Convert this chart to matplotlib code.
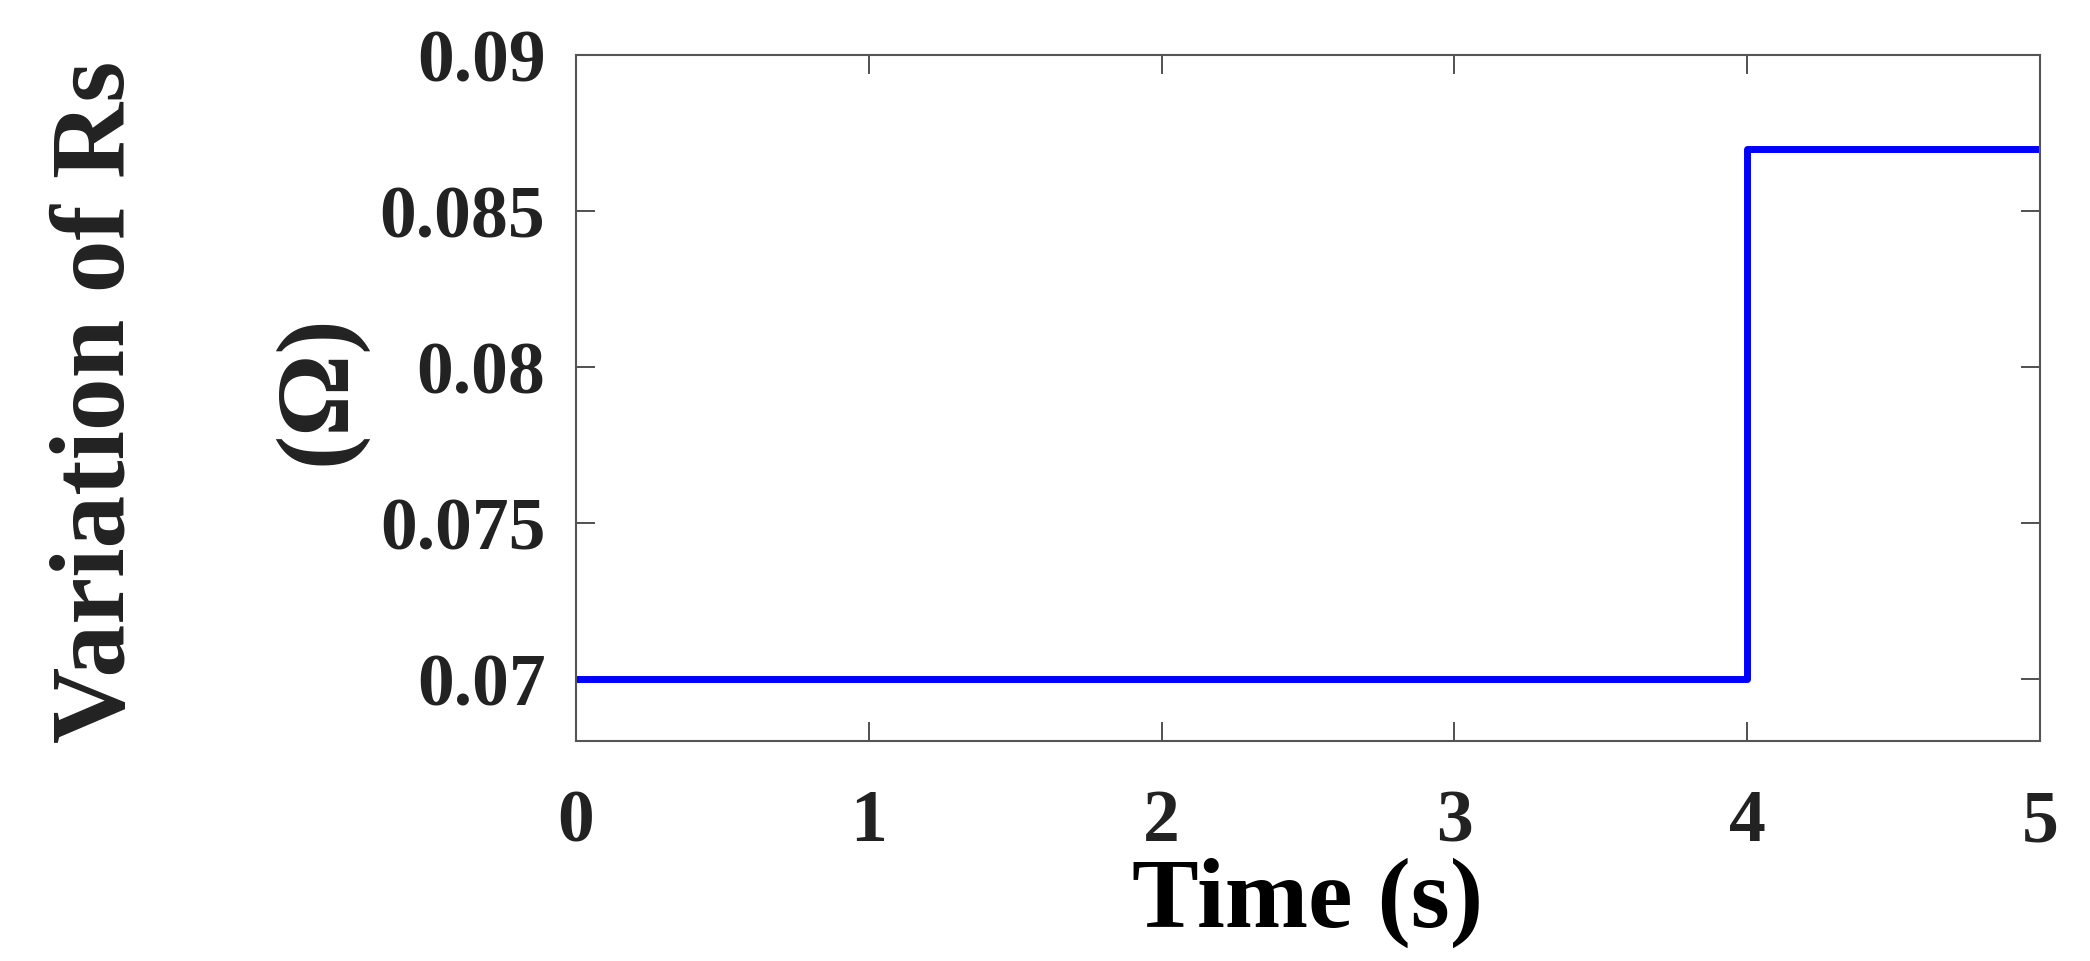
import matplotlib.pyplot as plt

# Data
time = [0, 4, 4, 5]
rs = [0.07, 0.07, 0.087, 0.087]
xticks = [0, 1, 2, 3, 4, 5]
yticks = [0.07, 0.075, 0.08, 0.085, 0.09]
ytick_labels = ['0.07', '0.075', '0.08', '0.085', '0.09']

plt.rcParams['font.family'] = 'Liberation Serif'
plt.rcParams['font.weight'] = 'bold'
plt.rcParams['text.color'] = '#222222'
plt.rcParams['xtick.labelcolor'] = '#222222'
plt.rcParams['ytick.labelcolor'] = '#222222'

fig = plt.figure(figsize=(20.9, 9.62), dpi=100)
ax = fig.add_axes([0.2756, 0.2287, 0.7005, 0.7131])

ax.plot(time, rs, color='#0000ff', linewidth=5)

ax.set_xlim(0, 5)
ax.set_ylim(0.068, 0.09)
ax.set_xticks(xticks)
ax.set_yticks(yticks)
ax.set_yticklabels(ytick_labels)

ax.tick_params(direction='in', length=14, width=1.2, color='#333333',
               top=True, right=True, labelsize=53)
ax.tick_params(axis='x', pad=34)
ax.tick_params(axis='y', pad=22)
for lab in ax.get_xticklabels() + ax.get_yticklabels():
    lab.set_fontweight('bold')
for s in ax.spines.values():
    s.set_color('#555555')
    s.set_linewidth(1.5)

ax.set_xlabel('Time (s)', fontsize=72, fontweight='bold', labelpad=0)

# Two-line y label
fig.text(0.047, 0.582, 'Variation of Rs', rotation=90, fontsize=76,
         fontweight='bold', ha='center', va='center')
fig.text(0.153, 0.595, '(Ω)', rotation=90, fontsize=74,
         fontweight='bold', ha='center', va='center')

fig.savefig('out.png', dpi=100)
